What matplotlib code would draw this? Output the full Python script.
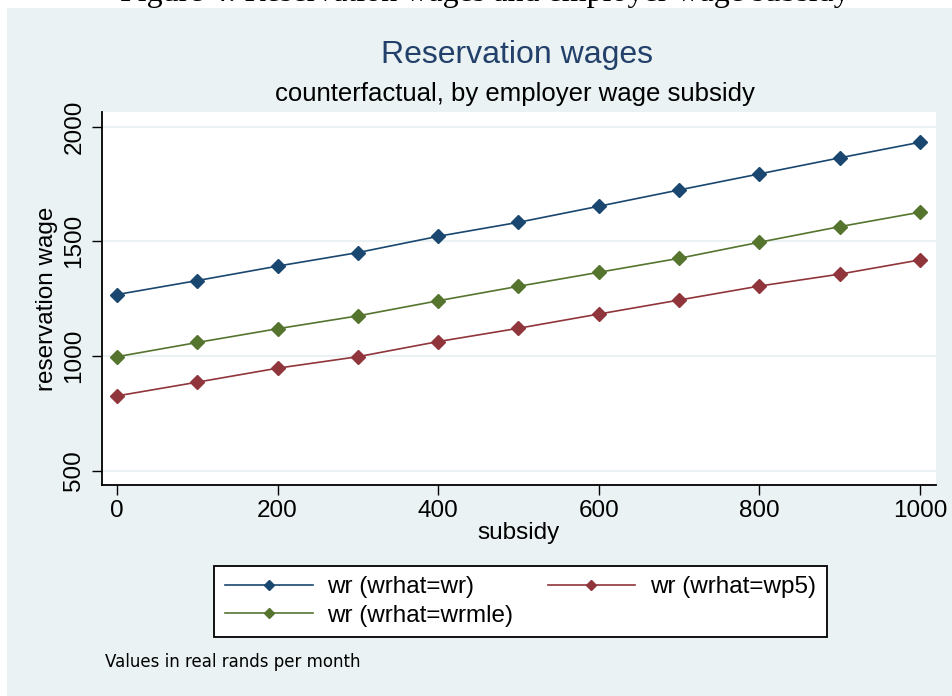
import matplotlib
matplotlib.use("Agg")
import matplotlib.pyplot as plt
from matplotlib.patches import Rectangle

# ─── Data ────────────────────────────────────────────────────────────────────
subsidy = [0, 100, 200, 300, 400, 500, 600, 700, 800, 900, 1000]
wr_wr    = [1268, 1329, 1392, 1451, 1522, 1583, 1653, 1724, 1794, 1864, 1932]
wr_wrmle = [997, 1059, 1119, 1175, 1241, 1304, 1365, 1426, 1496, 1564, 1627]
wr_wp5   = [826, 886, 947, 997, 1063, 1121, 1183, 1244, 1305, 1357, 1419]

x_ticks = [0, 200, 400, 600, 800, 1000]
y_ticks = [500, 1000, 1500, 2000]

labels = ["wr (wrhat=wr)", "wr (wrhat=wrmle)", "wr (wrhat=wp5)"]

# ─── Style ───────────────────────────────────────────────────────────────────
W, H = 953, 696
BG     = "#eaf2f3"
BLUE   = "#1a476f"
GREEN  = "#55752f"
RED    = "#90353b"
SANS   = "Liberation Sans"

plt.rcParams["font.family"] = SANS

fig = plt.figure(figsize=(W / 100, H / 100), dpi=100)

# stata graph region (light blue-grey panel under a white page strip)
fig.patches.append(Rectangle((7 / W, 0), (W - 7) / W, 1 - 8 / H,
                             transform=fig.transFigure, facecolor=BG,
                             edgecolor="none", zorder=0.5))

# page caption, mostly cut off by the top edge of the screenshot
fig.text(120 / W, 1 - 0.5 / H,
         "Figure 4: Reservation wages and employer wage subsidy",
         family="Liberation Serif", fontsize=23, va="baseline", ha="left",
         color="black", zorder=0.2)

# ─── Plot region ─────────────────────────────────────────────────────────────
ax = fig.add_axes([102 / W, 1 - 485 / H, (936 - 102) / W, (485 - 112) / H])
ax.set_zorder(2)
ax.set_facecolor("white")

series = [(wr_wr, BLUE), (wr_wrmle, GREEN), (wr_wp5, RED)]
handles = []
for ys, col in series:
    (ln,) = ax.plot(subsidy, ys, color=col, linewidth=1.2, marker="D",
                    markersize=7, markerfacecolor=col, markeredgecolor=col)
    handles.append(ln)

ax.set_xlim(-18.7, 1020)
ax.set_ylim(437.6, 2064)
ax.set_xticks(x_ticks)
ax.set_yticks(y_ticks)
ax.tick_params(axis="both", labelsize=17.5, length=7, width=1, color="black")
ax.tick_params(axis="x", pad=3.5)
ax.tick_params(axis="y", pad=5)
for lab in ax.get_yticklabels():
    lab.set_rotation(90)
    lab.set_va("center")

ax.grid(axis="y", color=BG, linewidth=1.5)
ax.set_axisbelow(True)
for side in ("top", "right"):
    ax.spines[side].set_visible(False)
for side in ("left", "bottom"):
    ax.spines[side].set_linewidth(1.3)
    ax.spines[side].set_color("black")

ax.set_xlabel("subsidy", fontsize=17.5, labelpad=0)
ax.set_ylabel("reservation wage", fontsize=17.5, labelpad=4)

# ─── Titles ──────────────────────────────────────────────────────────────────
fig.text(517 / W, 1 - 63 / H, "Reservation wages", fontsize=23,
         color="#22406a", ha="center", va="baseline")
fig.text(515 / W, 1 - 101 / H, "counterfactual, by employer wage subsidy",
         fontsize=18.5, color="black", ha="center", va="baseline")

# ─── Legend ──────────────────────────────────────────────────────────────────
leg = fig.legend(handles, labels, ncol=2, loc="center",
                 bbox_to_anchor=(520.5 / W, 1 - 601.5 / H),
                 fontsize=17.5, handlelength=3.6, handletextpad=0.6,
                 columnspacing=1.4, labelspacing=0.25, borderpad=0.45,
                 fancybox=False, framealpha=1, edgecolor="black",
                 markerscale=0.7)
leg.get_frame().set_linewidth(1.3)
leg.set_zorder(5)

fig.text(105 / W, 1 - 667 / H, "Values in real rands per month",
         family="DejaVu Sans", fontsize=12, ha="left", va="baseline")

fig.savefig("out.png", dpi=100)
